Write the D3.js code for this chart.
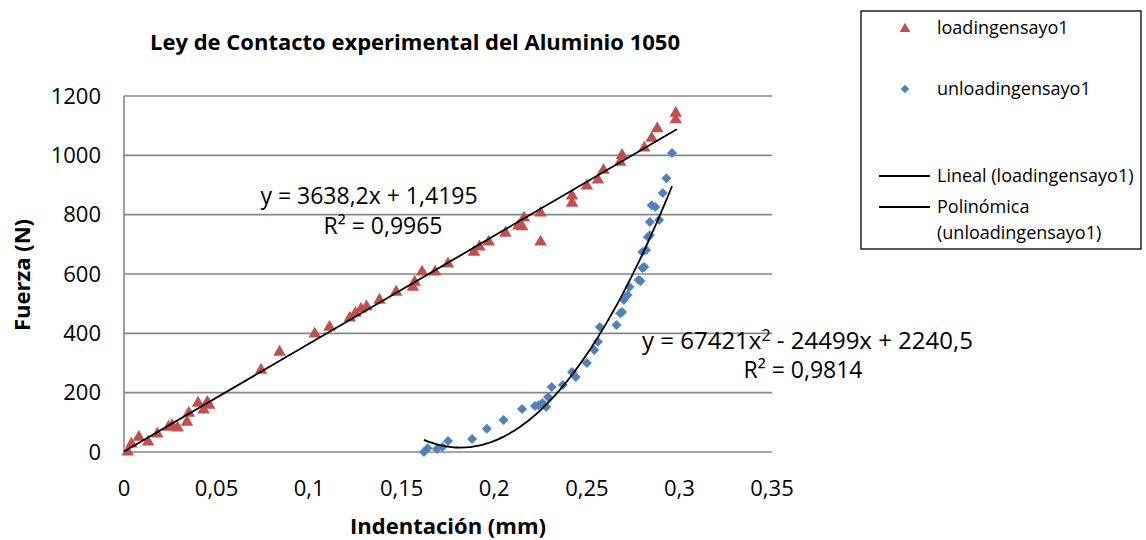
<!DOCTYPE html>
<html>
<head>
  <meta charset="utf-8">
  <title>Ley de Contacto</title>
  <style>
    body { margin: 0; background: #fff; }
    text { font-family: "Open Sans", sans-serif; }
  </style>
</head>
<body>
<script src="https://d3js.org/d3.v7.min.js"></script>
<svg id="chart" width="1146" height="540"></svg>
<script>
    // loadingensayo1 (triangulos)
    var loadX = [0.002,0.004,0.008,0.013,0.018,0.024,0.026,0.029,0.034,0.035,0.040,0.043,0.045,0.046,
                 0.074,0.084,0.103,0.111,0.122,0.125,0.128,0.131,0.138,0.147,0.156,0.157,0.161,0.168,
                 0.175,0.189,0.192,0.197,0.206,0.213,0.215,0.216,0.225,0.225,0.242,0.242,0.250,0.256,
                 0.259,0.268,0.269,0.281,0.285,0.288,0.298,0.298];
    var loadY = [0,27,50,34,61,84,90,81,101,131,165,142,168,158,
                 276,337,398,421,452,468,482,490,512,539,556,573,607,607,
                 634,674,691,708,738,762,760,789,806,708,863,839,897,917,
                 950,977,1000,1025,1058,1090,1120,1142];
    // unloadingensayo1 (rombos)
    var unloadX = [0.162,0.164,0.169,0.172,0.175,0.188,0.196,0.205,0.215,0.222,0.224,0.226,0.228,0.229,
                   0.231,0.237,0.242,0.244,0.250,0.254,0.256,0.257,0.266,0.268,0.269,0.270,0.272,0.273,
                   0.278,0.279,0.280,0.281,0.280,0.282,0.283,0.284,0.284,0.289,0.285,0.287,0.291,0.293,0.296];
    var unloadY = [0,13,10,17,37,44,78,108,145,155,158,165,152,185,
                   219,226,270,253,300,344,372,421,428,468,472,512,529,556,
                   580,576,620,624,674,681,725,731,775,782,832,826,873,923,1008];

    // lineas de tendencia (coeficientes de las ecuaciones mostradas)
    var linCoef = [3638.2, 1.4195];          // y = a x + b
    var linRange = [0, 0.2986];
    var polyCoef = [67421, -24499, 2240.5];  // y = a x^2 + b x + c
    var polyRange = [0.162, 0.2965];

    var xTicks = [0, 0.05, 0.1, 0.15, 0.2, 0.25, 0.3, 0.35];
    var yTicks = [0, 200, 400, 600, 800, 1000, 1200];

    var legendNames = ["loadingensayo1", "unloadingensayo1", "Lineal (loadingensayo1)", "Polinómica", "(unloadingensayo1)"];

    var red = "#C0504D", blue = "#4F81BD", grid = "#878787";

    var svg = d3.select("#chart");
    var pL = 124, pR = 772, pT = 96, pB = 452;

    var x = d3.scaleLinear().domain([0, 0.35]).range([pL, pR]);
    var y = d3.scaleLinear().domain([0, 1200]).range([pB, pT]);

    // grid
    svg.append("g").selectAll("line")
        .data(yTicks).enter().append("line")
        .attr("x1", pL).attr("x2", pR)
        .attr("y1", function(d){ return y(d); }).attr("y2", function(d){ return y(d); })
        .attr("stroke", grid).attr("stroke-width", 1.6);
    svg.append("line")
        .attr("x1", pL).attr("x2", pL).attr("y1", pT).attr("y2", pB)
        .attr("stroke", grid).attr("stroke-width", 1.6);

    // tick labels
    var fmt = function(d){ return String(d).replace(".", ","); };
    svg.append("g").selectAll("text")
        .data(yTicks).enter().append("text")
        .attr("x", 101).attr("y", function(d){ return y(d); })
        .attr("dy", "0.35em").attr("text-anchor", "end")
        .attr("font-size", 22).text(function(d){ return d; });
    svg.append("g").selectAll("text")
        .data(xTicks).enter().append("text")
        .attr("x", function(d){ return x(d); }).attr("y", 488)
        .attr("dy", "0.35em").attr("text-anchor", "middle")
        .attr("font-size", 22).text(fmt);

    // titles
    svg.append("text").attr("x", 415).attr("y", 42).attr("dy", "0.35em")
        .attr("text-anchor", "middle").attr("font-size", 22).attr("font-weight", "bold")
        .text("Ley de Contacto experimental del Aluminio 1050");
    svg.append("text").attr("x", 448).attr("y", 526).attr("dy", "0.35em")
        .attr("text-anchor", "middle").attr("font-size", 22).attr("font-weight", "bold")
        .text("Indentación (mm)");
    svg.append("text").attr("transform", "translate(22,275) rotate(-90)").attr("dy", "0.35em")
        .attr("text-anchor", "middle").attr("font-size", 22).attr("font-weight", "bold")
        .text("Fuerza (N)");

    // markers
    var tri = d3.symbol().type(d3.symbolTriangle).size(68);
    var dia = d3.symbol().type(d3.symbolSquare).size(50);

    svg.append("g").selectAll("path")
        .data(loadX).enter().append("path")
        .attr("d", tri)
        .attr("transform", function(d, i){ return "translate(" + x(d) + "," + y(loadY[i]) + ")"; })
        .attr("fill", red);
    svg.append("g").selectAll("path")
        .data(unloadX).enter().append("path")
        .attr("d", dia)
        .attr("transform", function(d, i){ return "translate(" + x(d) + "," + y(unloadY[i]) + ") rotate(45)"; })
        .attr("fill", blue);

    // trendlines
    var line = d3.line().x(function(d){ return x(d[0]); }).y(function(d){ return y(d[1]); });
    svg.append("path")
        .datum(linRange.map(function(v){ return [v, linCoef[0] * v + linCoef[1]]; }))
        .attr("d", line).attr("fill", "none").attr("stroke", "#000").attr("stroke-width", 1.8);
    var polyPts = d3.range(polyRange[0], polyRange[1] + 1e-9, 0.002).map(function(v){
        return [v, polyCoef[0] * v * v + polyCoef[1] * v + polyCoef[2]];
    });
    svg.append("path")
        .datum(polyPts)
        .attr("d", line.curve(d3.curveMonotoneX)).attr("fill", "none").attr("stroke", "#000").attr("stroke-width", 1.8);

    // equations
    var eq = svg.append("g").attr("font-size", 23);
    eq.append("text").attr("x", 369).attr("y", 196).attr("dy", "0.35em").attr("text-anchor", "middle")
        .text("y = 3638,2x + 1,4195");
    eq.append("text").attr("x", 383).attr("y", 226).attr("dy", "0.35em").attr("text-anchor", "middle")
        .text("R² = 0,9965");
    eq.append("text").attr("x", 642).attr("y", 341).attr("dy", "0.35em").attr("text-anchor", "start")
        .attr("font-size", 24)
        .html("y = 67421x<tspan dy='-8' font-size='16'>2</tspan><tspan dy='8'> - 24499x + 2240,5</tspan>");
    eq.append("text").attr("x", 803).attr("y", 370).attr("dy", "0.35em").attr("text-anchor", "middle")
        .text("R² = 0,9814");

    // legend
    var lg = svg.append("g");
    lg.append("rect").attr("x", 861).attr("y", 11).attr("width", 280).attr("height", 238)
        .attr("fill", "#fff").attr("stroke", "#000").attr("stroke-width", 1.3);
    var lgY = [28, 89, 176, 207, 233];
    lg.selectAll("text").data(legendNames).enter().append("text")
        .attr("x", 937).attr("y", function(d, i){ return lgY[i]; }).attr("dy", "0.35em")
        .attr("font-size", 18).text(function(d){ return d; });
    lg.append("path").attr("d", d3.symbol().type(d3.symbolTriangle).size(50))
        .attr("transform", "translate(905,29)").attr("fill", red);
    lg.append("path").attr("d", d3.symbol().type(d3.symbolSquare).size(36))
        .attr("transform", "translate(905,89) rotate(45)").attr("fill", blue);
    [176, 207].forEach(function(v){
        lg.append("line").attr("x1", 879).attr("x2", 930).attr("y1", v).attr("y2", v)
            .attr("stroke", "#000").attr("stroke-width", 1.8);
    });
</script>
</body>
</html>
